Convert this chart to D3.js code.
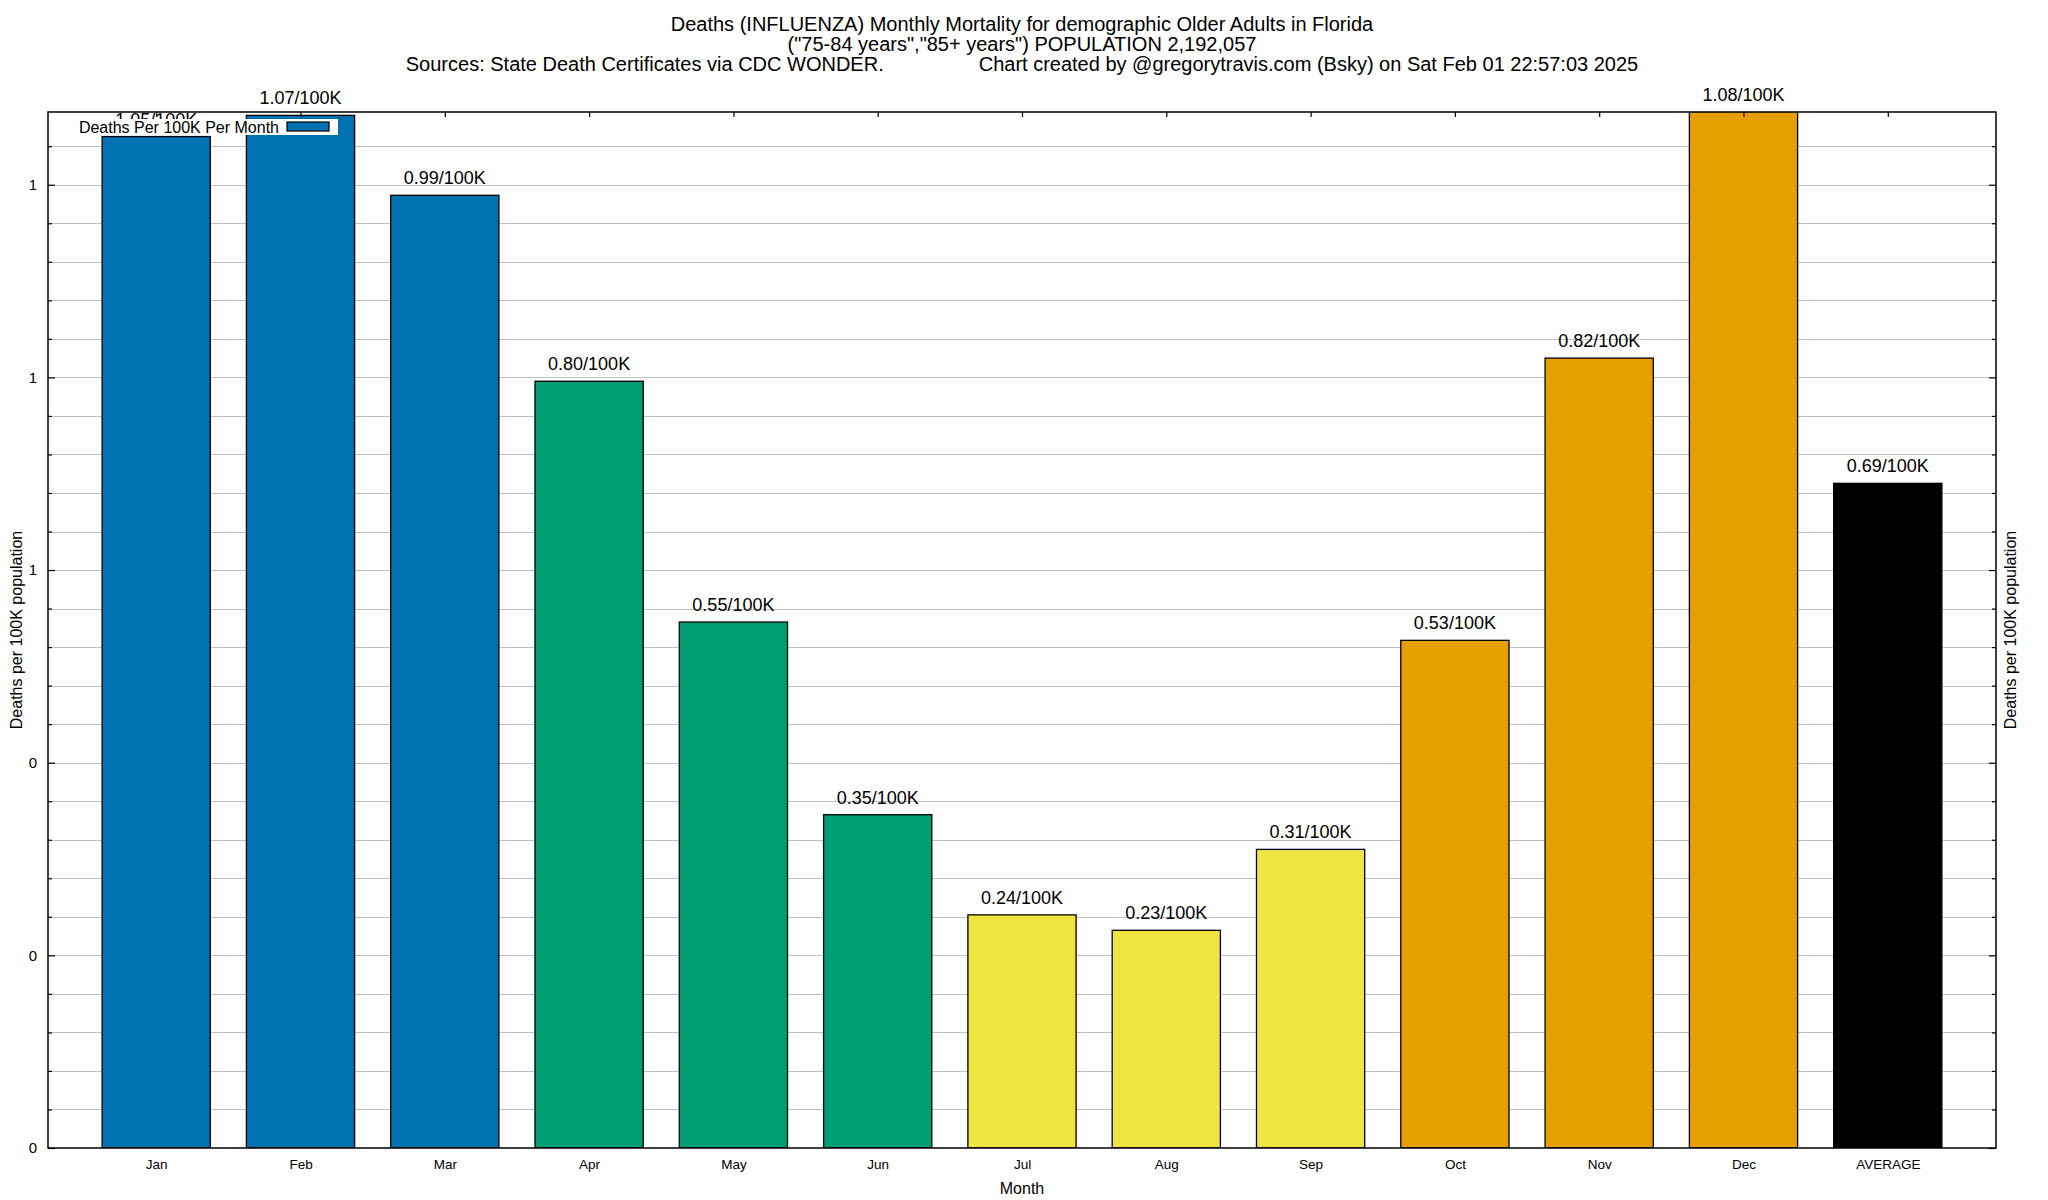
<!DOCTYPE html>
<html>
<head>
<meta charset="utf-8">
<script src="https://cdn.jsdelivr.net/npm/d3@7"></script>
<style>
  html, body { margin: 0; padding: 0; background: #fff; }
  svg { display: block; font-family: "Liberation Sans", Arial, Helvetica, sans-serif; }
</style>
</head>
<body>
<svg id="chart" width="2048" height="1200"></svg>
<script>
// ---------------- data ----------------
const categories = ["Jan", "Feb", "Mar", "Apr", "May", "Jun", "Jul", "Aug", "Sep", "Oct", "Nov", "Dec", "AVERAGE"];
const deathsPer100K = [1.05, 1.072, 0.989, 0.796, 0.546, 0.346, 0.242, 0.226, 0.31, 0.527, 0.82, 1.076, 0.69];
const barColors = ["#0072b2", "#0072b2", "#0072b2",
                   "#009e73", "#009e73", "#009e73",
                   "#f0e442", "#f0e442", "#f0e442",
                   "#e69f00", "#e69f00", "#e69f00",
                   "#000000"];
const yMajorTicks = [0, 0.2, 0.4, 0.6, 0.8, 1.0];
const yMajorTickLabels = ["0", "0", "0", "1", "1", "1"];
const yMinorStep = 0.04;
const yMax = 1.0755;
const titleLines = [
  "Deaths (INFLUENZA) Monthly Mortality for demographic Older Adults in Florida",
  "(\"75-84 years\",\"85+ years\") POPULATION 2,192,057"
];
const sourceText = "Sources: State Death Certificates via CDC WONDER.";
const creditText = "Chart created by @gregorytravis.com (Bsky) on Sat Feb 01 22:57:03 2025";
const legendLabel = "Deaths Per 100K Per Month";
const xAxisTitle = "Month";
const yAxisTitle = "Deaths per 100K population";

// ---------------- layout ----------------
const W = 2048, H = 1200;
const plot = { left: 48, right: 1996, top: 112, bottom: 1148 };
const svg = d3.select("#chart");

const x = d3.scaleLinear().domain([-0.75, categories.length - 0.25]).range([plot.left, plot.right]);
const y = d3.scaleLinear().domain([0, yMax]).range([plot.bottom, plot.top]);
const barW = x(0.75) - x(0);

const minorTicks = d3.range(0, yMax, yMinorStep).map(v => +v.toFixed(4))
  .filter(v => !yMajorTicks.some(m => Math.abs(m - v) < 1e-6));
const gridValues = d3.range(0, yMax, yMinorStep).map(v => +v.toFixed(4)).filter(v => v > 0);

svg.append("rect").attr("width", W).attr("height", H).attr("fill", "#fff");

// clip
svg.append("defs").append("clipPath").attr("id", "plotclip")
  .append("rect").attr("x", plot.left).attr("y", plot.top)
  .attr("width", plot.right - plot.left).attr("height", plot.bottom - plot.top);

// grid
svg.append("g").selectAll("line").data(gridValues).join("line")
  .attr("x1", plot.left).attr("x2", plot.right)
  .attr("y1", d => Math.round(y(d)) + 0.5).attr("y2", d => Math.round(y(d)) + 0.5)
  .attr("stroke", "#c0c0c0").attr("stroke-width", 1.2);

// bars
svg.append("g").attr("clip-path", "url(#plotclip)")
  .selectAll("rect").data(deathsPer100K).join("rect")
  .attr("x", (d, i) => x(i) - barW / 2)
  .attr("width", barW)
  .attr("y", d => y(d))
  .attr("height", d => y(0) - y(d))
  .attr("fill", (d, i) => barColors[i])
  .attr("stroke", "#000").attr("stroke-width", 1.3);

// axes (ticks inward)
const majorLen = 7, minorLen = 4;
const leftMajor = d3.axisLeft(y).tickValues(yMajorTicks).tickFormat((d, i) => yMajorTickLabels[i])
  .tickSizeInner(-majorLen).tickSizeOuter(0).tickPadding(11);
const gLeft = svg.append("g").attr("transform", `translate(${plot.left},0)`).call(leftMajor);
gLeft.select(".domain").remove();
gLeft.selectAll("text").attr("font-size", 15).attr("fill", "#000")
  .attr("font-family", "Liberation Sans, Arial, sans-serif");
gLeft.selectAll("line").attr("stroke", "#000").attr("stroke-width", 1.2);

const leftMinor = d3.axisLeft(y).tickValues(minorTicks).tickFormat("").tickSizeInner(-minorLen).tickSizeOuter(0);
const gLeftMin = svg.append("g").attr("transform", `translate(${plot.left},0)`).call(leftMinor);
gLeftMin.select(".domain").remove();
gLeftMin.selectAll("line").attr("stroke", "#000").attr("stroke-width", 1.2);

const rightMajor = d3.axisRight(y).tickValues(yMajorTicks).tickFormat("").tickSizeInner(-majorLen).tickSizeOuter(0);
const gRight = svg.append("g").attr("transform", `translate(${plot.right},0)`).call(rightMajor);
gRight.select(".domain").remove();
gRight.selectAll("line").attr("stroke", "#000").attr("stroke-width", 1.2);
const rightMinor = d3.axisRight(y).tickValues(minorTicks).tickFormat("").tickSizeInner(-minorLen).tickSizeOuter(0);
const gRightMin = svg.append("g").attr("transform", `translate(${plot.right},0)`).call(rightMinor);
gRightMin.select(".domain").remove();
gRightMin.selectAll("line").attr("stroke", "#000").attr("stroke-width", 1.2);

// x axis labels at bottom
const idx = d3.range(categories.length);
const bottomAxis = d3.axisBottom(x).tickValues(idx).tickFormat(i => categories[i])
  .tickSizeInner(0).tickSizeOuter(0).tickPadding(11);
const gBottom = svg.append("g").attr("transform", `translate(0,${plot.bottom})`).call(bottomAxis);
gBottom.select(".domain").remove();
gBottom.selectAll("line").remove();
gBottom.selectAll("text").attr("font-size", 13.5).attr("fill", "#000")
  .attr("font-family", "Liberation Sans, Arial, sans-serif");

// top mirror ticks
const topAxis = d3.axisTop(x).tickValues(idx).tickFormat("").tickSizeInner(-5).tickSizeOuter(0);
const gTop = svg.append("g").attr("transform", `translate(0,${plot.top})`).call(topAxis);
gTop.select(".domain").remove();
gTop.selectAll("line").attr("stroke", "#000").attr("stroke-width", 1.2);

// border
svg.append("rect").attr("x", plot.left).attr("y", plot.top)
  .attr("width", plot.right - plot.left).attr("height", plot.bottom - plot.top)
  .attr("fill", "none").attr("stroke", "#000").attr("stroke-width", 1.5);

// value labels
const fmt = d3.format(".2f");
svg.append("g").selectAll("text").data(deathsPer100K).join("text")
  .attr("x", (d, i) => x(i))
  .attr("y", d => y(d) - 11)
  .attr("text-anchor", "middle")
  .attr("font-size", 18)
  .attr("fill", "#000")
  .text(d => fmt(d) + "/100K");

// legend
const lg = svg.append("g");
lg.append("rect").attr("x", 77).attr("y", 119).attr("width", 261).attr("height", 16).attr("fill", "#fff");
lg.append("text").attr("x", 279).attr("y", 133).attr("text-anchor", "end")
  .attr("font-size", 16).attr("fill", "#000").text(legendLabel);
lg.append("rect").attr("x", 287).attr("y", 122).attr("width", 42).attr("height", 9)
  .attr("fill", barColors[0]).attr("stroke", "#000").attr("stroke-width", 1.2);

// titles
const cx = (plot.left + plot.right) / 2;
svg.append("g").selectAll("text").data(titleLines).join("text")
  .attr("x", cx).attr("y", (d, i) => 31 + i * 20)
  .attr("text-anchor", "middle").attr("font-size", 20).attr("fill", "#000")
  .text(d => d);
const t3 = svg.append("text").attr("x", cx).attr("y", 71)
  .attr("text-anchor", "middle").attr("font-size", 20).attr("fill", "#000");
t3.append("tspan").text(sourceText);
t3.append("tspan").attr("dx", 95).text(creditText);

// axis titles
svg.append("text").attr("x", cx).attr("y", 1194).attr("text-anchor", "middle")
  .attr("font-size", 16).attr("fill", "#000").text(xAxisTitle);
svg.append("text").attr("transform", "translate(16,630) rotate(-90)")
  .attr("text-anchor", "middle").attr("dominant-baseline", "central")
  .attr("font-size", 16).attr("fill", "#000").text(yAxisTitle);
svg.append("text").attr("transform", "translate(2010,630) rotate(-90)")
  .attr("text-anchor", "middle").attr("dominant-baseline", "central")
  .attr("font-size", 16).attr("fill", "#000").text(yAxisTitle);
</script>
</body>
</html>
